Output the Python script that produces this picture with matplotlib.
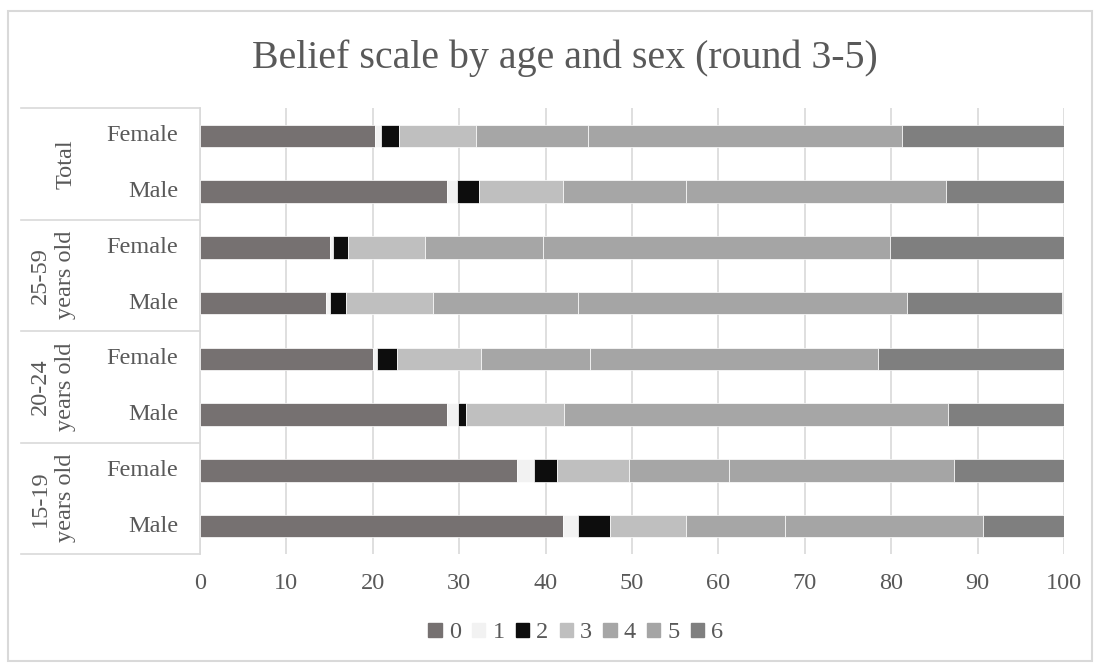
import matplotlib
matplotlib.use("Agg")
import matplotlib.pyplot as plt
import matplotlib.patches as mpatches
import matplotlib.transforms as mtransforms
import numpy as np

# rows listed top to bottom
groups = ["Total", "25-59\nyears old", "20-24\nyears old", "15-19\nyears old"]
sexes = ["Female", "Male"]
levels = ["0", "1", "2", "3", "4", "5", "6"]

scale_0 = [20.3, 28.6, 15.0, 14.6, 20.0, 28.6, 36.7, 42.0]
scale_1 = [0.7, 1.2, 0.4, 0.5, 0.5, 1.3, 2.0, 1.8]
scale_2 = [2.0, 2.5, 1.7, 1.8, 2.3, 0.9, 2.6, 3.6]
scale_3 = [8.9, 9.7, 8.9, 10.1, 9.7, 11.3, 8.4, 8.9]
scale_4 = [13.0, 14.2, 13.7, 16.7, 12.6, 44.5, 11.5, 11.4]
scale_5 = [36.3, 30.2, 40.2, 38.1, 33.4, 0.0, 26.1, 22.9]
scale_6 = [18.9, 13.6, 20.1, 18.0, 21.5, 13.4, 12.7, 9.4]

colors = ["#767171", "#f2f2f2", "#0d0d0d", "#bfbfbf", "#a6a6a6", "#a5a5a5", "#7f7f7f"]
text_color = "#595959"
line_color = "#d9d9d9"
fs = 17.5

plt.rcParams["font.family"] = ["Liberation Serif", "DejaVu Serif"]

W, H = 1099, 668
fig = plt.figure(figsize=(W / 100, H / 100), dpi=100)

x0, x1 = 200, 1064
y_top, y_bot = 108, 554
ax = fig.add_axes([x0 / W, 1 - y_bot / H, (x1 - x0) / W, (y_bot - y_top) / H])

series = [scale_0, scale_1, scale_2, scale_3, scale_4, scale_5, scale_6]
n = len(scale_0)
ypos = np.arange(n)[::-1]  # first row on top

left = np.zeros(n)
for vals, col, lab in zip(series, colors, levels):
    vals = np.array(vals)
    ax.barh(ypos, vals, left=left, height=0.4, color=col, label=lab,
            edgecolor="white", linewidth=0.5, zorder=3)
    left += vals

ax.set_xlim(0, 100)
ax.set_ylim(-0.5, n - 0.5)
ax.set_xticks(np.arange(0, 101, 10))
ax.tick_params(axis="x", length=0, pad=14, labelsize=fs, labelcolor=text_color)
ax.set_yticks([])
ax.grid(axis="x", color=line_color, linewidth=1.2, zorder=0)
for s in ["top", "right", "bottom"]:
    ax.spines[s].set_visible(False)
ax.spines["left"].set_color(line_color)
ax.spines["left"].set_linewidth(1.2)

# multi-level category labels
trans = mtransforms.blended_transform_factory(ax.transAxes, ax.transData)
label_left = (21 - x0) / (x1 - x0)
sex_x = (178 - x0) / (x1 - x0)
for i in range(n):
    ax.text(sex_x, ypos[i], sexes[i % 2], transform=trans, ha="right", va="center",
            fontsize=fs, color=text_color)

bounds = [n - 0.5 - 2 * k for k in range(len(groups) + 1)]
for b in bounds:
    ax.plot([label_left, 0], [b, b], transform=trans, color=line_color,
            linewidth=1.2, clip_on=False)

for k, g in enumerate(groups):
    yc = n - 1.5 - 2 * k
    gx = (66 - x0) / (x1 - x0) if "\n" not in g else (53 - x0) / (x1 - x0)
    ax.text(gx, yc, g, transform=trans, rotation=90, ha="center", va="center",
            fontsize=fs, color=text_color, linespacing=1.25, multialignment="center")

fig.suptitle("Belief scale by age and sex (round 3-5)", x=565 / W,
             y=1 - 58 / H, va="center", fontsize=28.7, color=text_color)

handles = [mpatches.Patch(color=c, label=l) for c, l in zip(colors, levels)]
fig.legend(handles=handles, loc="center", bbox_to_anchor=(576 / W, 1 - 633 / H),
           ncol=7, frameon=False, fontsize=fs, labelcolor=text_color,
           handlelength=0.55, handleheight=0.55, handletextpad=0.3, columnspacing=0.45)

border = mpatches.Rectangle((8 / W, 1 - 661 / H), (1092 - 8) / W, (661 - 11) / H,
                            transform=fig.transFigure, fill=False,
                            edgecolor=line_color, linewidth=1.5)
fig.patches.append(border)

fig.savefig("out.png", dpi=100)
